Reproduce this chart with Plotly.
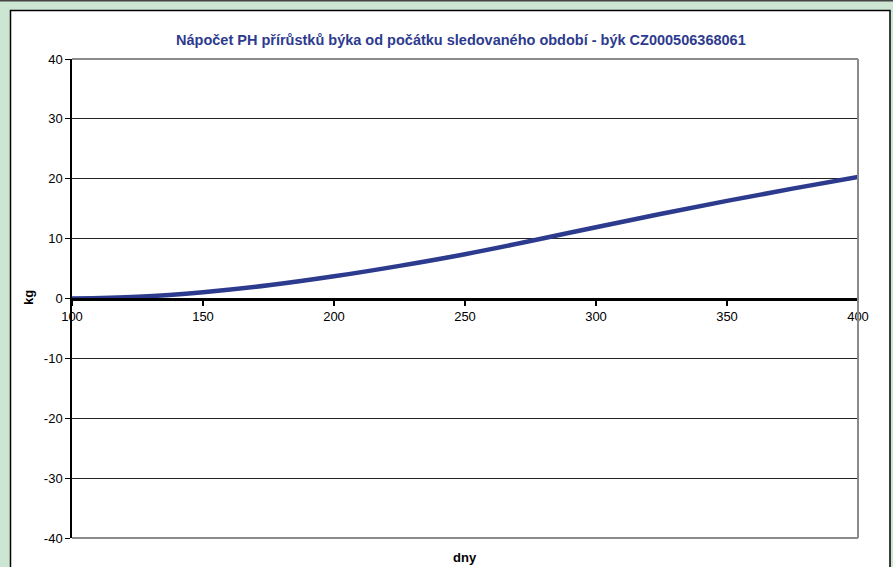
import plotly.graph_objects as go

# Computed weight gain of the bull (kg) against age in days
days = [100, 125, 150, 175, 200, 225, 250, 275, 300, 325, 350, 375, 400]
gain_kg = [0.0, 0.3, 1.05, 2.2, 3.7, 5.45, 7.4, 9.6, 11.9, 14.15, 16.3, 18.35, 20.3]

x_ticks = [100, 150, 200, 250, 300, 350, 400]
y_ticks = [-40, -30, -20, -10, 0, 10, 20, 30, 40]

title_text = "Nápočet PH přírůstků býka od počátku sledovaného období - býk CZ000506368061"
x_title = "dny"
y_title = "kg"

W, H = 893, 567
L, R, T, B = 72, 35, 59, 29
pw, ph = W - L - R, H - T - B


def px_x(p):
    return (p - L) / pw


def px_y(p):
    return (H - B - p) / ph


FONT = "Liberation Sans, Arial, sans-serif"
NAVY = "#2d3b8e"
GREY = "#8a8a8a"

fig = go.Figure()
fig.add_trace(go.Scatter(
    x=days, y=gain_kg, mode="lines",
    line=dict(color=NAVY, width=4.5, shape="spline", smoothing=1.0),
    hoverinfo="skip", showlegend=False, cliponaxis=False,
))

shapes = [
    # white chart box on green page
    dict(type="rect", xref="paper", yref="paper",
         x0=px_x(10.5), x1=px_x(890), y0=px_y(590), y1=px_y(10.5),
         fillcolor="white", line=dict(color="black", width=1.5), layer="below"),
    # thin dark rule along the top edge of the page
    dict(type="line", xref="paper", yref="paper",
         x0=px_x(0), x1=px_x(W), y0=px_y(0.7), y1=px_y(0.7),
         line=dict(color="#444444", width=1.5), layer="below"),
    # grey plot-area border (top, right, bottom)
    dict(type="line", xref="paper", yref="paper", x0=0, x1=1, y0=1, y1=1,
         line=dict(color=GREY, width=2), layer="above"),
    dict(type="line", xref="paper", yref="paper", x0=1, x1=1, y0=0, y1=1,
         line=dict(color=GREY, width=2), layer="above"),
    dict(type="line", xref="paper", yref="paper", x0=0, x1=1, y0=0, y1=0,
         line=dict(color=GREY, width=2), layer="above"),
]

annotations = [
    dict(text="<b>" + title_text + "</b>", xref="paper", yref="paper",
         x=px_x(461), y=px_y(40), xanchor="center", yanchor="middle",
         showarrow=False, font=dict(family=FONT, size=14.5, color=NAVY)),
    dict(text="<b>" + x_title + "</b>", xref="paper", yref="paper",
         x=px_x(465), y=px_y(557), xanchor="center", yanchor="middle",
         showarrow=False, font=dict(family=FONT, size=13, color="black")),
    dict(text="<b>" + y_title + "</b>", xref="paper", yref="paper",
         x=px_x(28), y=px_y(298), xanchor="center", yanchor="middle",
         textangle=-90, showarrow=False,
         font=dict(family=FONT, size=13, color="black")),
]

fig.update_layout(
    width=W, height=H,
    margin=dict(l=L, r=R, t=T, b=B, pad=0),
    paper_bgcolor="#cde6d3",
    plot_bgcolor="white",
    font=dict(family=FONT, size=13, color="black"),
    shapes=shapes,
    annotations=annotations,
    xaxis=dict(
        range=[100, 400], tickvals=x_ticks, ticktext=[str(v) for v in x_ticks],
        anchor="free", position=0.5,
        showgrid=False, zeroline=False,
        showline=True, linecolor="black", linewidth=3,
        ticks="outside", ticklen=5, tickwidth=2, tickcolor="black",
        tickfont=dict(family=FONT, size=13, color="black"),
    ),
    yaxis=dict(
        range=[-40, 40], tickvals=y_ticks, ticktext=[str(v) for v in y_ticks],
        showgrid=True, gridcolor="#222222", gridwidth=1,
        zeroline=False,
        showline=True, linecolor="black", linewidth=1.5,
        ticks="outside", ticklen=5, tickwidth=1, tickcolor="black",
        tickfont=dict(family=FONT, size=13, color="black"),
    ),
)

fig.write_html("out.html")
